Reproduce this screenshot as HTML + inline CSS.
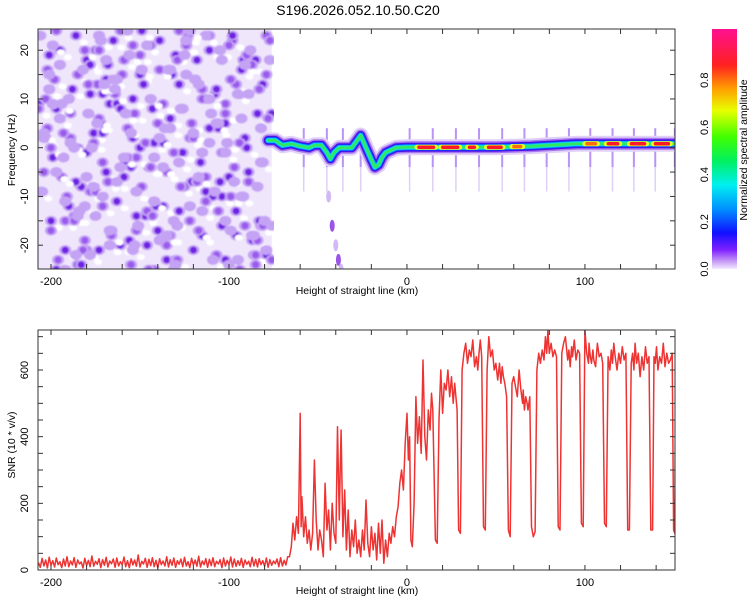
<!DOCTYPE html>
<html><head><meta charset="utf-8"><style>
body{margin:0;background:#fff}
svg{display:block;font-family:"Liberation Sans",sans-serif}
</style></head><body>
<svg id="c" width="750" height="600" xmlns="http://www.w3.org/2000/svg">
<defs>
<linearGradient id="cbg" x1="0" y1="1" x2="0" y2="0">
<stop offset="0" stop-color="#f3eaff"/><stop offset="0.03" stop-color="#c9a0f5"/><stop offset="0.08" stop-color="#8020ff"/>
<stop offset="0.15" stop-color="#1010ff"/><stop offset="0.25" stop-color="#0090ff"/><stop offset="0.35" stop-color="#00f0f0"/>
<stop offset="0.45" stop-color="#00f060"/><stop offset="0.55" stop-color="#40ff00"/><stop offset="0.66" stop-color="#e8ff00"/>
<stop offset="0.75" stop-color="#ffa000"/><stop offset="0.85" stop-color="#ff2020"/><stop offset="1" stop-color="#ff1090"/>
</linearGradient>
<clipPath id="clipTop"><rect x="38" y="29" width="637" height="240"/></clipPath>
<clipPath id="clipNoise"><rect x="38" y="29" width="236" height="240"/></clipPath>
<clipPath id="clipBot"><rect x="38" y="330" width="637" height="240"/></clipPath>
<filter id="blur1"><feGaussianBlur stdDeviation="0.8"/></filter>
</defs>
<text x="358" y="15" text-anchor="middle" font-size="14">S196.2026.052.10.50.C20</text>
<g id="top" clip-path="url(#clipTop)"></g>
<g id="bot" clip-path="url(#clipBot)"></g>
<g id="axes"></g>
</svg>
<script>
// ---- data: SNR ----
const lowStartKm = -207;
const lowVals = [22,8,35,12,30,6,38,14,28,9,36,16,25,7,33,12,40,10,27,15,37,8,30,18,24,6,35,13,29,10,42,11,26,17,34,7,31,14,38,9,27,19,33,8,36,12,25,16,39,10,28,7,34,15,30,11,45,9,26,18,35,8,32,13,37,10,29,6,34,16,27,12,40,9,31,14,36,8,28,17,33,10,38,12,25,7,35,15,30,11,41,9,27,16,34,8,32,13,37,10,26,18,31,7,36,12,29,15,39,9,33,11,28,14,35,8,30,17,26,10,38,12,32,9,34,16,28,11,36,8,31,14,27,19,33,10,37,12,29,15,40,22];
const snrKm = [-66,-65,-64,-63,-62,-61,-60,-59.5,-59,-58,-57,-56,-55,-54,-53,-52,-51,-50,-49,-48,-47,-46,-45,-44,-43,-42,-41,-40,-39,-38,-37.5,-37,-36,-35,-34,-33,-32,-31,-30,-29,-28,-27,-26,-25,-24,-23,-22,-21,-20,-19,-18,-17,-16,-15,-14,-13,-12,-11,-10,-9,-8,-7,-6,-5,-4,-3,-2,-1,0,0.8,1.5,2.2,3,4,5,6,7,8,9,10,11,12,13,13.8,14.5,15.2,16,17,18,19,20,21,22,23,24,25,26,26.8,27.5,28.2,29,30,31,32,33,34,35,36,37,38,39,39.8,40.5,41.2,42,43,44,45,46,47,48,49,50,51,52,52.8,53.5,54.2,55,56,57,58,59,60,61,62,63,64,65,65.3,66,66.7,67.5,68,69,70,71,72,73,74,75,76,77,77.8,78.5,79.2,80,81,82,83,84,85,86,87,88,89,90.3,91,91.7,92.5,93,94,95,96,97,98,99,100,101,102,102.3,103,103.7,104.5,105,106,107,108,109,110,111,112,113,114,114.8,115.5,116.2,117,118,119,120,121,122,123,124,125,126,126.8,127.5,128.2,129,130,131,132,133,134,135,136,137,138,138.8,139.5,140.2,141,142,143,144,145,146,147,148,149,149.8,150.5,151];
const snrVal = [40,70,140,90,160,110,470,130,220,100,160,80,120,60,110,330,150,60,120,90,40,260,120,180,60,200,110,80,430,150,300,420,100,240,60,180,40,120,70,150,50,90,40,120,60,210,80,40,130,60,110,30,140,50,150,20,90,40,110,80,130,100,160,190,260,300,240,380,470,330,400,90,70,200,520,380,460,350,630,400,330,480,420,530,480,300,90,80,450,600,470,560,540,600,520,580,500,560,520,480,120,110,600,650,680,620,660,640,690,610,640,600,650,690,640,130,120,600,700,640,660,600,620,570,620,560,610,580,560,520,120,100,560,580,550,520,600,540,500,540,480,520,500,480,520,130,100,115,600,650,620,660,630,700,650,720,650,680,640,660,640,130,120,650,680,700,630,660,610,670,640,690,630,660,650,140,130,720,650,620,680,640,620,660,630,610,680,640,650,620,140,130,640,600,660,620,680,640,600,650,620,670,630,650,120,120,620,650,600,680,620,650,580,640,600,670,620,640,120,120,640,620,670,600,640,620,680,610,650,620,630,650,120,110,640,690,620,650,610,670,630,640,620,650,610,620,110,100,130,250];
// ---- data: spectrogram ridge ----
const ridgeKm = [-78,-74,-70,-65,-60,-55,-52,-48,-45,-43,-41,-38,-34,-31,-28,-26,-23,-20,-18,-16,-14,-12,-9,-6,0,50,70,80,95,152];
const ridgeHz = [1.5,1.5,0.5,0.8,0.3,0,0.5,0.5,-1,-2.3,-1,0,0,0,1.5,2.5,0,-2.5,-4,-3.5,-2,-1,-0.5,0,0.1,0.1,0.3,0.5,0.8,0.8];
const hotStart = [5.6,19,34,44.7,59,100,112,125,138.5];
const hotEnd = [16,29.6,39,54,65,107,119.5,134.6,148];
const hotLevel = [1,1,0.9,0.95,0.8,0.8,0.9,0.95,0.9];
const streakKm = [-58,-45,-36,-26,1.5,14.5,27.5,40.5,53.5,66,78.5,91,103,115.5,127.5,139.5,150.5];
const noiseKm = [-195,-188,-180,-172,-165,-158,-150,-143,-137,-130,-122,-115,-108,-100,-93,-86,-200,-183,-176,-161,-147,-133,-119,-104,-90,-197,-186,-169,-154,-140,-126,-111,-96,-84,-192,-178,-163,-149,-135,-121,-106,-92,-203,-185,-171,-156,-142,-128,-113,-98,-82,-190,-167,-145,-124,-102];
const noiseHz = [20,12,18,5,22,-3,15,8,-12,19,2,-18,11,-6,16,-22,-15,-8,3,-20,-14,6,14,-10,0,8,23,-5,10,-17,-1,20,-13,7,-21,17,-11,24,-23,-7,4,18,2,-24,11,-19,1,13,-9,22,-16,-12,9,-4,21,-23];
const trailKm = [-44,-42,-40,-38.5,-37];
const trailHz = [-10,-16,-20,-23,-25];
// ---- ticks ----
const xTicks = [-200,-100,0,100];
const hzTicks = [20,10,0,-10,-20];
const snrTicks = [0,200,400,600];
const cbTicks = [0.0,0.2,0.4,0.6,0.8];

const NS="http://www.w3.org/2000/svg";
const X0=38,X1=675,KM0=-207.3,KM1=150.6;
const xs=k=>X0+(k-KM0)/(KM1-KM0)*(X1-X0);
const yHz=h=>147.7-h*4.875;
const ySnr=v=>570-v/600*200;
const yCb=v=>269-v*236;
function mk(tag,parent,attrs){const e=document.createElementNS(NS,tag);for(const k in attrs)e.setAttribute(k,attrs[k]);parent.appendChild(e);return e;}
const gTop=document.getElementById('top'),gBot=document.getElementById('bot'),gAxes=document.getElementById('axes');

// noise region
const nr=mk('rect',gTop,{x:X0,y:29,width:xs(-76)-X0,height:240,fill:'#efe6fb'});


const ng=mk('g',gTop,{filter:'url(#blur1)','clip-path':'url(#clipNoise)'});
const shifts=[[0,0],[17,-9],[-31,5],[43,13],[-9,-17],[61,-4]];
const wrapK=k=>{const a=-207,w=132;return a+(((k-a)%w)+w)%w;};
const wrapH=h=>{const a=-25,w=50;return a+(((h-a)%w)+w)%w;};
shifts.forEach((s,si)=>{
  for(let i=0;i<Math.min(noiseKm.length,noiseHz.length);i++){
    const cx=xs(wrapK(noiseKm[i]+s[0])),cy=yHz(wrapH(noiseHz[i]+s[1]));
    const h=mk('ellipse',ng,{cx:cx,cy:cy,rx:6,ry:5,fill:'#c4a2f4'});
    
    
    if(si<4){
      const b=mk('ellipse',ng,{cx:cx,cy:cy,rx:3.5,ry:3.5,fill:si<2?'#7024e4':'#9a5aee'});
      
      
    }
    if(si%2===0){
      const w=mk('ellipse',ng,{cx:cx+8,cy:cy+7,rx:4,ry:3,fill:'#ffffff'});
      
      
    }
  }
});
// trail
for(let i=0;i<trailKm.length;i++){
  const t=mk('ellipse',gTop,{cx:xs(trailKm[i]),cy:yHz(trailHz[i]),rx:2.5,ry:6,fill:i%2?'#9a55e8':'#d2b8f5'});
  
  
}
// streaks
for(const k of streakKm){
  const s=mk('rect',gTop,{x:xs(k)-1,y:yHz(4),width:2,height:yHz(-4)-yHz(4),fill:'#8a4cf0',opacity:0.6});
  
  
  const s2=mk('rect',gTop,{x:xs(k)-0.75,y:yHz(-4),width:1.5,height:yHz(-9)-yHz(-4),fill:'#e0d0f8'});
  
  
}
// ridge
const rp=ridgeKm.map((k,i)=>xs(k).toFixed(1)+','+yHz(ridgeHz[i]).toFixed(1)).join(' ');
[['#e2d2f8',16],['#a878f0',12],['#5010e8',9],['#1030ff',7],['#10a0ff',5.5],['#10e8d0',4],['#30e860',2.5]].forEach(([c,w])=>{
  const l=mk('polyline',gTop,{points:rp,fill:'none',stroke:c,'stroke-width':w,'stroke-linejoin':'round','stroke-linecap':'round'});
  
  
});
function ridgeAt(k){for(let i=1;i<ridgeKm.length;i++){if(k<=ridgeKm[i]){const t=(k-ridgeKm[i-1])/(ridgeKm[i]-ridgeKm[i-1]);return ridgeHz[i-1]+t*(ridgeHz[i]-ridgeHz[i-1]);}}return ridgeHz[ridgeHz.length-1];}
for(let i=0;i<hotStart.length;i++){
  const a=xs(hotStart[i]),b=xs(hotEnd[i]),y=yHz(ridgeAt((hotStart[i]+hotEnd[i])/2));
  const y1=mk('line',gTop,{x1:a,y1:y,x2:b,y2:y,stroke:'#e8ff20','stroke-width':5,'stroke-linecap':'round'});
  
  
  const r=mk('line',gTop,{x1:a+2,y1:y,x2:b-2,y2:y,stroke:hotLevel[i]>0.85?'#ff1828':'#ff6a10','stroke-width':3.5,'stroke-linecap':'round'});
  
  
}
// SNR line
const pts=[];
lowVals.forEach((v,i)=>{const k=lowStartKm+i;if(k<snrKm[0])pts.push(xs(k).toFixed(1)+','+ySnr(v).toFixed(1));});
snrKm.forEach((k,i)=>{if(i<snrVal.length)pts.push(xs(k).toFixed(1)+','+ySnr(snrVal[i]).toFixed(1));});
const sl=mk('polyline',gBot,{points:pts.join(' '),fill:'none',stroke:'#ee3333','stroke-width':1.5,'stroke-linejoin':'round'});



// axes frames and ticks
function frame(y0,y1,name){
  const r=mk('rect',gAxes,{x:X0,y:y0,width:X1-X0,height:y1-y0,fill:'none',stroke:'#333','stroke-width':1});
  
  
  for(let k=-200;k<=150;k+=20){const x=xs(k);mk('line',gAxes,{x1:x,y1:y0,x2:x,y2:y0+5,stroke:'#333'});mk('line',gAxes,{x1:x,y1:y1,x2:x,y2:y1-5,stroke:'#333'});}
}
frame(29,269,'spectrogram-frame');frame(330,570,'snr-frame');
for(let h=-20;h<=20;h+=5){const y=yHz(h);mk('line',gAxes,{x1:X0,y1:y,x2:X0+5,y2:y,stroke:'#333'});mk('line',gAxes,{x1:X1,y1:y,x2:X1-5,y2:y,stroke:'#333'});}
for(let v=0;v<=700;v+=50){const y=ySnr(v);mk('line',gAxes,{x1:X0,y1:y,x2:X0+5,y2:y,stroke:'#333'});mk('line',gAxes,{x1:X1,y1:y,x2:X1-5,y2:y,stroke:'#333'});}
function txt(x,y,s,name,rot,anchor,size){const t=mk('text',gAxes,{x:x,y:y,'font-size':size||11,'text-anchor':anchor||'middle'});if(rot)t.setAttribute('transform','rotate(-90 '+x+' '+y+')');t.textContent=s;return t;}
xTicks.forEach(k=>{txt(xs(k),285,String(k),'x-tick-label');txt(xs(k),586,String(k),'x-tick-label');});
hzTicks.forEach(h=>txt(28,yHz(h),String(h),'y-tick-label',true));
snrTicks.forEach(v=>txt(28,ySnr(v),String(v),'y-tick-label',true));
txt(357,294,'Height of straight line (km)','x-axis-title',false,'middle',10.5);
txt(357,594,'Height of straight line (km)','x-axis-title',false,'middle',10.5);
txt(15,150,'Frequency (Hz)','y-axis-title',true,'middle',10.5);
txt(15,445,'SNR (10 * v/v)','y-axis-title',true,'middle',10.5);
// colorbar
const cb=mk('rect',gAxes,{x:712,y:29,width:25,height:240,fill:'url(#cbg)'});


cbTicks.forEach(v=>{txt(708,yCb(v),v.toFixed(1),'colorbar-tick-label',true);});
txt(747,150,'Normalized spectral amplitude','colorbar-title',true,'middle',10.5);
</script>
</body></html>
